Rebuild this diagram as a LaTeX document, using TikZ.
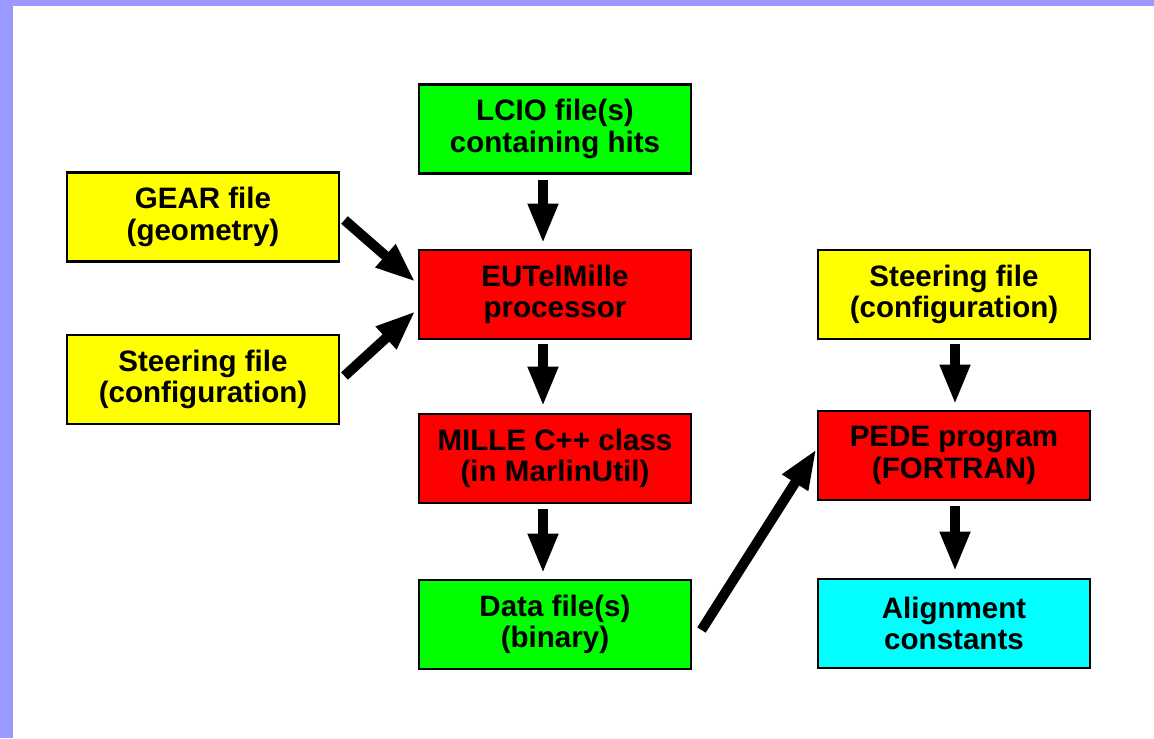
\documentclass[tikz,border=0pt]{standalone}
\usepackage{fontspec}
\setmainfont{Liberation Sans}
\usetikzlibrary{arrows.meta}
\definecolor{framecol}{HTML}{9999FF}
\definecolor{boxgreen}{RGB}{0,255,0}
\definecolor{boxyellow}{RGB}{255,255,0}
\definecolor{boxred}{RGB}{255,0,0}
\definecolor{boxcyan}{RGB}{0,255,255}
\begin{document}
\begin{tikzpicture}[x=0.01cm, y=-0.01cm,
box/.style={draw, line width=0.8pt, minimum width=2.72cm, minimum height=0.89cm, inner sep=0pt,
  align=center, font=\fontsize{8.4}{8.9}\selectfont\bfseries},
flow/.style={line width=0.1cm, -{Triangle[width=0.28cm,length=0.4cm]}}]
\fill[framecol] (0,0) rectangle (1154,738);
\fill[white] (13,6) rectangle (1154,738);
\useasboundingbox (0,0) rectangle (1154,738);

\node[box, fill=boxgreen]  (lcio)  at (555,129)   {LCIO file(s)\\containing hits};
\node[box, fill=boxyellow] (gear)  at (203,217)   {GEAR file\\(geometry)};
\node[box, fill=boxred]    (mille) at (555,294.5) {EUTelMille\\processor};
\node[box, fill=boxyellow] (steerl) at (203,379.5) {Steering file\\(configuration)};
\node[box, fill=boxred]    (cpp)   at (555,458.5) {MILLE C++ class\\(in MarlinUtil)};
\node[box, fill=boxgreen]  (data)  at (555,624.5) {Data file(s)\\(binary)};
\node[box, fill=boxyellow] (steerr) at (954,294.5) {Steering file\\(configuration)};
\node[box, fill=boxred]    (pede)  at (954,455.5) {PEDE program\\(FORTRAN)};
\node[box, fill=boxcyan]   (align) at (954,623.5) {Alignment\\constants};

\draw[flow] ([xshift=-0.12cm,yshift=-0.05cm]lcio.south) -- ([xshift=-0.12cm,yshift=0.05cm]mille.north);
\draw[flow] ([xshift=-0.12cm,yshift=-0.04cm]mille.south) -- ([xshift=-0.12cm,yshift=0.06cm]cpp.north);
\draw[flow] ([xshift=-0.12cm,yshift=-0.05cm]cpp.south) -- ([xshift=-0.12cm,yshift=0.05cm]data.north);
\draw[flow] ([xshift=0.01cm,yshift=-0.04cm]steerr.south) -- ([xshift=0.01cm,yshift=0.05cm]pede.north);
\draw[flow] ([xshift=0.01cm,yshift=-0.05cm]pede.south) -- ([xshift=0.01cm,yshift=0.06cm]align.north);
\draw[flow] ([shift={(0.04cm,-0.03cm)}]gear.east) -- ([shift={(-0.02cm,0.125cm)}]mille.west);
\draw[flow] ([shift={(0.04cm,0.035cm)}]steerl.east) -- ([shift={(-0.02cm,-0.165cm)}]mille.west);
\draw[flow] ([shift={(0.09cm,-0.055cm)}]data.east) -- ([yshift=0.065cm]pede.west);
\end{tikzpicture}
\end{document}
